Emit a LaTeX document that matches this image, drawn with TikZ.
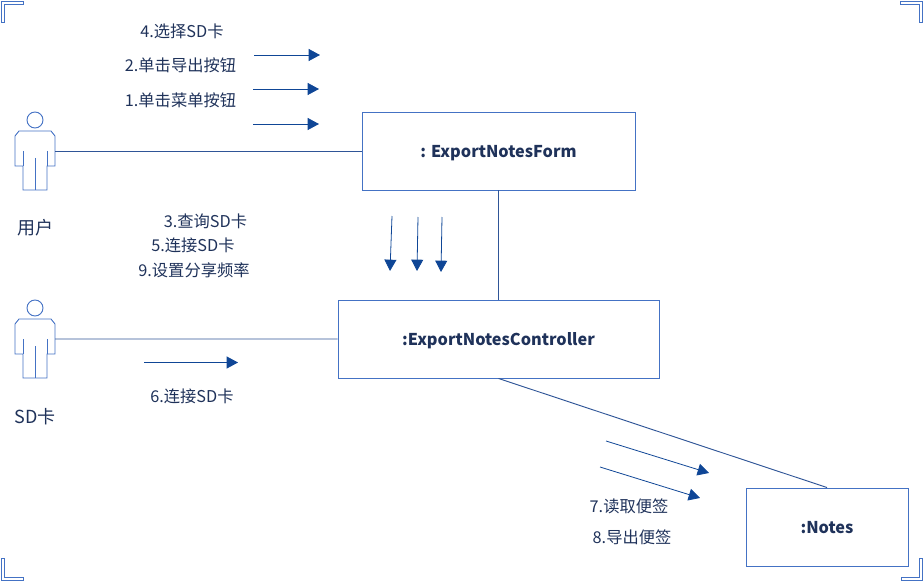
\documentclass[tikz,border=0pt]{standalone}
\usepackage{fontspec}
\setmainfont{Noto Sans CJK SC}
\usepackage{xcolor}
\usetikzlibrary{arrows.meta,positioning}
\definecolor{boxblue}{RGB}{68,114,196}
\definecolor{lineblue}{RGB}{47,85,151}
\definecolor{arrowblue}{RGB}{15,70,150}
\definecolor{textnavy}{RGB}{31,50,90}
\tikzset{
  actor/.style={draw=boxblue, line width=0.7pt},
  pics/stickman/.style={code={
    \draw[actor] (0,-31) circle (8);
    \draw[actor] (-20,0) -- (-20,-15) -- (-16,-20) -- (16,-20) -- (20,-15) -- (20,15) -- (12,15)
      -- (12,39) -- (-12,39) -- (-12,15) -- (-20,15) -- cycle;
    \draw[actor] (-12,0) -- (-12,15) (12,0) -- (12,15) (0,7) -- (0,39);
    \coordinate (-hand) at (20,0);
  }}
}
\begin{document}
\begin{tikzpicture}[
          x=0.75pt, y=-0.75pt,
          node distance=81.8pt,
          classbox/.style={draw=boxblue, line width=0.7pt, minimum height=58.5pt,
                           font=\bfseries\fontsize{12.2}{14}\selectfont, text=textnavy, inner sep=0pt,
                           text height=10.4pt, text depth=0pt},
          msg/.style={font=\fontsize{12.2}{14}\selectfont, text=textnavy, inner sep=0pt},
          actorname/.style={font=\fontsize{13.5}{16}\selectfont, text=textnavy, inner sep=0pt},
          link/.style={draw=lineblue, line width=0.7pt},
          flow/.style={draw=arrowblue, line width=0.6pt, -{Triangle[length=8.5pt, width=9pt]}},
          cornermark/.style={draw=boxblue, line width=0.7pt}]
  \useasboundingbox (0,0) rectangle (924,581);
  % corner marks
  \draw[cornermark] (1,1) -- (23,1) -- (23,4) -- (4,4) -- (4,22) -- (1,22) -- cycle;
  \draw[cornermark] (922,1) -- (900,1) -- (900,4) -- (919,4) -- (919,22) -- (922,22) -- cycle;
  \draw[cornermark] (1,580) -- (23,580) -- (23,577) -- (4,577) -- (4,558) -- (1,558) -- cycle;
  \draw[cornermark] (922,580) -- (901,580) -- (901,577) -- (919,577) -- (919,558) -- (922,558) -- cycle;

  % objects
  \node[classbox, minimum width=204.75pt] (form) at (498.5,151) {: ExportNotesForm};
  \node[classbox, minimum width=240.75pt, below=of form] (controller) {:ExportNotesController};
  \node[classbox, minimum width=121.5pt] (notes) at (827,527) {:Notes};
  \pic (user) at (35,151) {stickman};
  \pic (card) at (35,339) {stickman};
  \node[actorname] (userlabel) at (35,228) {用户};
  \node[actorname] (cardlabel) at (35,417) {SD卡};

  % links
  \draw[link] (user-hand) -- (form);
  \draw[link] (card-hand) -- (controller);
  \draw[link] (form) -- (controller);
  \draw[link] (controller.south) -- (notes.north);

  % messages
  \node[msg] (m4) at (182,31) {4.选择SD卡};
  \node[msg] (m2) at (180.5,65) {2.单击导出按钮};
  \node[msg] (m1) at (180.5,100) {1.单击菜单按钮};
  \node[msg] (m3) at (205.5,221) {3.查询SD卡};
  \node[msg] (m5) at (193,245) {5.连接SD卡};
  \node[msg] (m9) at (194,270) {9.设置分享频率};
  \node[msg] (m6) at (192,396) {6.连接SD卡};
  \node[msg] (m7) at (629,506) {7.读取便签};
  \node[msg] (m8) at (632,537) {8.导出便签};

  % arrows
  \foreach \name/\xa/\ya/\xb/\yb in {a/254/55/320/55, b/253/89/319/89, c/253/124/319/124,
      d/392/216/390/271, e/418/217/417/271, f/442/217/441/272,
      g/144/362.5/238/362.5, h/606/441/709/473, i/600/467/700/498} {
    \coordinate (\name0) at (\xa,\ya);
    \coordinate (\name1) at (\xb,\yb);
    \draw[flow] (\name0) -- (\name1);
  }
\end{tikzpicture}
\end{document}
